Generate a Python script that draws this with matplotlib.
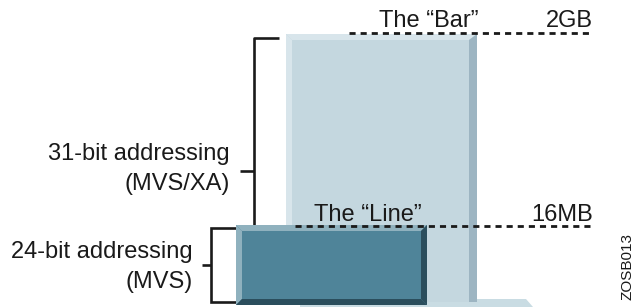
import matplotlib
matplotlib.use("Agg")
import matplotlib.pyplot as plt
from matplotlib.patches import Polygon

plt.rcParams['font.family'] = ['Liberation Sans', 'DejaVu Sans']

# ---- data ----
region_labels = ["24-bit addressing\n(MVS)", "31-bit addressing\n(MVS/XA)"]
boundary_names = ["The \u201cLine\u201d", "The \u201cBar\u201d"]
boundary_sizes = ["16MB", "2GB"]
figure_id = "ZOSB013"

W, H = 637, 307
fig = plt.figure(figsize=(W / 100, H / 100), dpi=100)
ax = fig.add_axes([0, 0, 1, 1])
ax.set_xlim(0, W)
ax.set_ylim(H, 0)
ax.axis('off')


def bevel_box(x0, y0, x1, y1, b, main, light, dark, z, bottom=True, br=None):
    br = br or b
    ax.add_patch(Polygon([(x0, y0), (x1, y0), (x1, y1), (x0, y1)], closed=True,
                         facecolor=main, edgecolor='none', zorder=z))
    ax.add_patch(Polygon([(x0, y0), (x1, y0), (x1 - br, y0 + b), (x0 + b, y0 + b)],
                         closed=True, facecolor=light, edgecolor='none', zorder=z + 0.1))
    yb = y1 - b if bottom else y1
    ax.add_patch(Polygon([(x0, y0), (x0 + b, y0 + b), (x0 + b, yb), (x0, y1)],
                         closed=True, facecolor=light, edgecolor='none', zorder=z + 0.1))
    ax.add_patch(Polygon([(x1, y0), (x1 - br, y0 + b), (x1 - br, yb), (x1, y1)],
                         closed=True, facecolor=dark, edgecolor='none', zorder=z + 0.1))
    if bottom:
        ax.add_patch(Polygon([(x0, y1), (x0 + b, y1 - b), (x1 - br, y1 - b), (x1, y1)],
                             closed=True, facecolor=dark, edgecolor='none', zorder=z + 0.1))


# floor
ax.add_patch(Polygon([(300, 299), (526, 299), (533, 307), (300, 307)], closed=True,
                     facecolor='#c9dce3', edgecolor='none', zorder=1))
# big (31-bit) bar
bevel_box(286, 34, 477, 302, 6, '#c4d7df', '#d8e5eb', '#9db5c2', 2, bottom=False, br=8)
# small (24-bit) bar
bevel_box(236, 225, 427, 305, 6, '#4f8499', '#8fb1be', '#2b4e5d', 5)

lw = 1.9
blk = '#1a1a1a'
# 31-bit bracket
ax.plot([279, 254, 254], [38, 38, 228], color=blk, lw=lw, zorder=3, solid_capstyle='butt')
ax.plot([240, 254], [171, 171], color=blk, lw=lw, zorder=3, solid_capstyle='butt')
# 24-bit bracket
ax.plot([236, 211, 211, 236], [228, 228, 302, 302], color=blk, lw=lw, zorder=3,
        solid_capstyle='butt', solid_joinstyle='miter')
ax.plot([202, 211], [265, 265], color=blk, lw=lw, zorder=3, solid_capstyle='butt')

fs = 17
l24 = region_labels[0].split("\n")
l31 = region_labels[1].split("\n")
ax.text(230, 160, l31[0], ha='right', va='baseline', fontsize=fs, color=blk)
ax.text(230, 190, l31[1], ha='right', va='baseline', fontsize=fs, color=blk)
ax.text(193, 258, l24[0], ha='right', va='baseline', fontsize=fs, color=blk)
ax.text(193, 288, l24[1], ha='right', va='baseline', fontsize=fs, color=blk)

# boundary dashed lines
ax.plot([349, 593], [33, 33], color=blk, lw=2.0, dashes=(2.2, 1.8), zorder=6)
ax.plot([295, 593], [226, 226], color=blk, lw=2.0, dashes=(2.2, 1.8), zorder=6)

ax.text(429, 27, boundary_names[1], ha='center', va='baseline', fontsize=fs, color=blk, zorder=7)
ax.text(593, 27, boundary_sizes[1], ha='right', va='baseline', fontsize=fs, color=blk, zorder=7)
ax.text(368, 221, boundary_names[0], ha='center', va='baseline', fontsize=fs, color=blk, zorder=7)
ax.text(593, 221, boundary_sizes[0], ha='right', va='baseline', fontsize=fs, color=blk, zorder=7)

ax.text(628, 267, figure_id, rotation=90, ha='center', va='center', fontsize=11, color=blk)

fig.savefig('out.png', dpi=100)
